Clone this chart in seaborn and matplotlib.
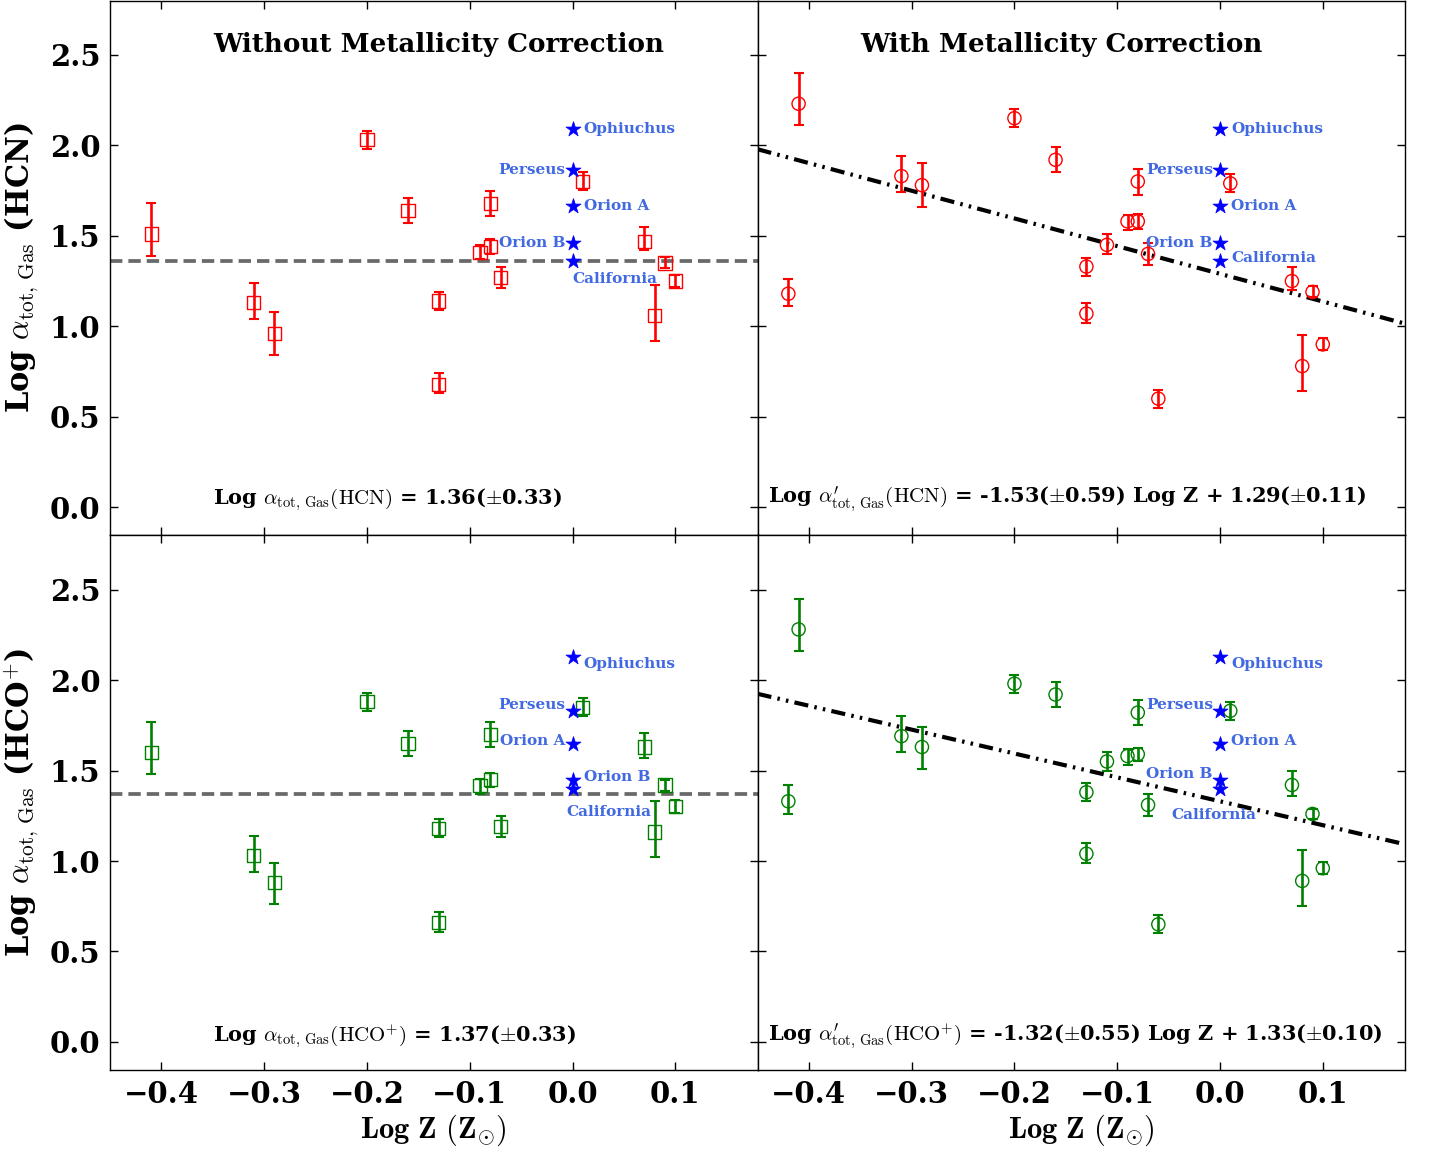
import numpy as np
import pandas as pd
import matplotlib
matplotlib.use("Agg")
import matplotlib.pyplot as plt
import seaborn as sns

# ---------------- data ----------------
z_nocorr = [-0.41, -0.31, -0.29, -0.20, -0.16, -0.13, -0.13, -0.09, -0.08, -0.08,
            -0.07, 0.01, 0.07, 0.08, 0.09, 0.10]
hcn_nocorr = [1.51, 1.13, 0.96, 2.03, 1.64, 1.14, 0.68, 1.41, 1.44, 1.68,
              1.27, 1.80, 1.47, 1.06, 1.35, 1.25]
hcn_nocorr_lo = [1.39, 1.04, 0.84, 1.98, 1.57, 1.09, 0.63, 1.37, 1.40, 1.61,
                 1.21, 1.755, 1.42, 0.92, 1.32, 1.215]
hcn_nocorr_hi = [1.68, 1.24, 1.08, 2.08, 1.71, 1.19, 0.74, 1.45, 1.48, 1.75,
                 1.33, 1.85, 1.55, 1.23, 1.385, 1.285]

hco_nocorr = [1.60, 1.03, 0.88, 1.88, 1.65, 1.18, 0.66, 1.415, 1.45, 1.70,
              1.19, 1.85, 1.63, 1.16, 1.42, 1.30]
hco_nocorr_lo = [1.48, 0.94, 0.76, 1.83, 1.58, 1.13, 0.61, 1.37, 1.41, 1.63,
                 1.13, 1.80, 1.57, 1.02, 1.385, 1.265]
hco_nocorr_hi = [1.77, 1.14, 0.99, 1.93, 1.72, 1.23, 0.72, 1.455, 1.485, 1.77,
                 1.25, 1.90, 1.71, 1.33, 1.45, 1.335]

z_corr = [-0.42, -0.41, -0.31, -0.29, -0.20, -0.16, -0.13, -0.13, -0.11, -0.09,
          -0.08, -0.08, -0.07, -0.06, 0.01, 0.07, 0.08, 0.09, 0.10]
hcn_corr = [1.18, 2.23, 1.83, 1.78, 2.15, 1.92, 1.33, 1.07, 1.45, 1.58,
            1.58, 1.80, 1.40, 0.60, 1.79, 1.25, 0.78, 1.19, 0.90]
hcn_corr_lo = [1.11, 2.11, 1.74, 1.66, 2.10, 1.85, 1.28, 1.02, 1.40, 1.53,
               1.54, 1.725, 1.34, 0.55, 1.74, 1.20, 0.64, 1.16, 0.87]
hcn_corr_hi = [1.26, 2.40, 1.94, 1.90, 2.20, 1.99, 1.38, 1.13, 1.51, 1.615,
               1.62, 1.87, 1.46, 0.65, 1.84, 1.33, 0.95, 1.22, 0.935]

hco_corr = [1.33, 2.28, 1.69, 1.63, 1.98, 1.92, 1.38, 1.04, 1.55, 1.58,
            1.59, 1.82, 1.31, 0.65, 1.83, 1.42, 0.89, 1.26, 0.96]
hco_corr_lo = [1.26, 2.16, 1.60, 1.51, 1.93, 1.85, 1.33, 0.99, 1.50, 1.53,
               1.55, 1.75, 1.25, 0.60, 1.78, 1.36, 0.75, 1.23, 0.93]
hco_corr_hi = [1.42, 2.45, 1.80, 1.74, 2.03, 1.99, 1.43, 1.10, 1.60, 1.62,
               1.625, 1.89, 1.37, 0.70, 1.88, 1.50, 1.06, 1.285, 0.995]

cloud_names = ["Ophiuchus", "Perseus", "Orion A", "Orion B", "California"]
cloud_z = [0.0, 0.0, 0.0, 0.0, 0.0]
cloud_hcn = [2.09, 1.865, 1.665, 1.46, 1.36]
cloud_hco = [2.13, 1.83, 1.645, 1.445, 1.40]

mean_hcn, mean_hco = 1.36, 1.37
fit_hcn = (-1.53, 1.29)
fit_hco = (-1.32, 1.33)

xtick_vals = [-0.4, -0.3, -0.2, -0.1, 0.0, 0.1]
ytick_vals = [0.0, 0.5, 1.0, 1.5, 2.0, 2.5]

# ---------------- style ----------------
sns.set_style("ticks")
plt.rcParams["font.family"] = ["DejaVu Serif"]
plt.rcParams["font.weight"] = "bold"
plt.rcParams["mathtext.fontset"] = "cm"
plt.rcParams["axes.linewidth"] = 1.0
for key in ["text.color", "axes.labelcolor", "xtick.color", "ytick.color", "axes.edgecolor"]:
    plt.rcParams[key] = "black"

fig, axes = plt.subplots(2, 2, figsize=(14.34, 11.51), dpi=100, sharex=True, sharey=True)
fig.subplots_adjust(left=110 / 1434, right=1405 / 1434, bottom=1 - 1070 / 1151,
                    top=0.9995, hspace=0, wspace=0)

label_offsets = {
    (0, 0): [(0.011, 0.0, "left"), (-0.007, 0.0, "right"), (0.011, 0.0, "left"),
             (-0.007, 0.0, "right"), (0.0, -0.10, "left")],
    (0, 1): [(0.011, 0.0, "left"), (-0.007, 0.0, "right"), (0.011, 0.0, "left"),
             (-0.007, 0.0, "right"), (0.011, 0.015, "left")],
    (1, 0): [(0.011, -0.04, "left"), (-0.007, 0.03, "right"), (-0.007, 0.02, "right"),
             (0.011, 0.02, "left"), (-0.006, -0.13, "left")],
    (1, 1): [(0.011, -0.04, "left"), (-0.007, 0.03, "right"), (0.011, 0.02, "left"),
             (-0.007, 0.035, "right"), (-0.047, -0.145, "left")],
}

panels = {
    (0, 0): (z_nocorr, hcn_nocorr, hcn_nocorr_lo, hcn_nocorr_hi, "red", "s", cloud_hcn),
    (0, 1): (z_corr, hcn_corr, hcn_corr_lo, hcn_corr_hi, "red", "o", cloud_hcn),
    (1, 0): (z_nocorr, hco_nocorr, hco_nocorr_lo, hco_nocorr_hi, "green", "s", cloud_hco),
    (1, 1): (z_corr, hco_corr, hco_corr_lo, hco_corr_hi, "green", "o", cloud_hco),
}

for (r, c), (zx, yv, lo, hi, col, mk, clouds) in panels.items():
    ax = axes[r, c]
    zx = np.array(zx); yv = np.array(yv); lo = np.array(lo); hi = np.array(hi)
    df = pd.DataFrame({"z": zx, "y": yv})
    # reference lines
    if c == 0:
        ax.axhline(mean_hcn if r == 0 else mean_hco, color="dimgray", lw=2.7,
                   ls=(0, (3.3, 1.6)), zorder=1)
    else:
        a, b = fit_hcn if r == 0 else fit_hco
        ax.axline((0.0, b), slope=a, color="black", lw=3.0,
                  ls=(0, (3.4, 1.5, 0.6, 1.5, 0.6, 1.5)), zorder=1)
    # error bars
    ax.errorbar(zx, yv, yerr=[yv - lo, hi - yv], fmt="none", ecolor=col,
                elinewidth=1.9, capsize=3.5, capthick=1.5, zorder=2)
    # markers
    sns.scatterplot(data=df, x="z", y="y", ax=ax, marker=mk, s=90,
                    facecolor="none", edgecolor=col, linewidth=1.0, zorder=3)
    # clouds
    cdf = pd.DataFrame({"z": cloud_z, "y": clouds})
    sns.scatterplot(data=cdf, x="z", y="y", ax=ax, marker="*", s=130,
                    color="blue", edgecolor="blue", linewidth=0.5, zorder=4)
    for name, cz, cy, (dx, dy, ha) in zip(cloud_names, cloud_z, clouds, label_offsets[(r, c)]):
        ax.text(cz + dx, cy + dy, name, color="royalblue", fontsize=11,
                fontweight="bold", ha=ha, va="center", zorder=5)

    ax.set_xlim(-0.45, 0.18)
    ax.set_ylim(-0.155, 2.8)
    ax.set_xticks(xtick_vals)
    ax.set_yticks(ytick_vals)
    ax.tick_params(direction="in", length=6, width=1, top=True, right=True,
                   labelsize=21, pad=7, colors="black")
    for lab in ax.get_xticklabels() + ax.get_yticklabels():
        lab.set_fontweight("bold")
    ax.set_xlabel("")
    ax.set_ylabel("")
    for sp in ax.spines.values():
        sp.set_visible(True)
        sp.set_color("black")

# titles
axes[0, 0].text(-0.35, 2.555, "Without Metallicity Correction", fontsize=18.8,
                fontweight="bold", ha="left", va="center")
axes[0, 1].text(-0.35, 2.555, "With Metallicity Correction", fontsize=18.8,
                fontweight="bold", ha="left", va="center")

# equations
axes[0, 0].text(-0.35, 0.04, r"Log $\alpha_{\rm tot,\,Gas}{\rm (HCN)}$ = 1.36($\pm$0.33)",
                fontsize=15, fontweight="bold", ha="left", va="center")
axes[0, 1].text(-0.44, 0.04,
                r"Log $\alpha^{\prime}_{\rm tot,\,Gas}{\rm (HCN)}$ = -1.53($\pm$0.59) Log Z + 1.29($\pm$0.11)",
                fontsize=15, fontweight="bold", ha="left", va="center")
axes[1, 0].text(-0.35, 0.03, r"Log $\alpha_{\rm tot,\,Gas}{\rm (HCO^{+})}$ = 1.37($\pm$0.33)",
                fontsize=15, fontweight="bold", ha="left", va="center")
axes[1, 1].text(-0.44, 0.03,
                r"Log $\alpha^{\prime}_{\rm tot,\,Gas}{\rm (HCO^{+})}$ = -1.32($\pm$0.55) Log Z + 1.33($\pm$0.10)",
                fontsize=15, fontweight="bold", ha="left", va="center")

# axis labels
axes[0, 0].set_ylabel(r"Log $\alpha_{\rm tot,\,Gas}$ (HCN)", fontsize=22,
                      fontweight="bold", labelpad=6)
axes[1, 0].set_ylabel(r"Log $\alpha_{\rm tot,\,Gas}$ (HCO$^{+}$)", fontsize=22,
                      fontweight="bold", labelpad=6)
for c in range(2):
    axes[1, c].set_xlabel(r"$\mathbf{Log\ Z\ (Z_{\odot})}$", fontsize=22, labelpad=3)

fig.savefig("out.png", dpi=100)
